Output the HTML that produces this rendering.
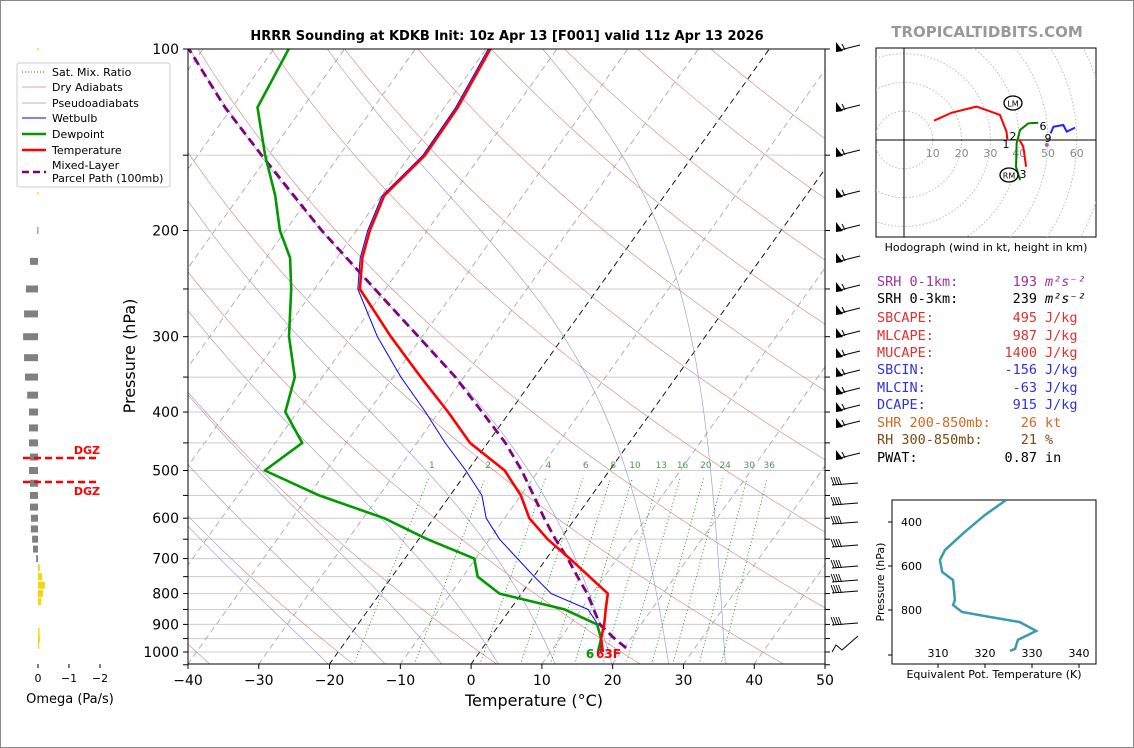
<!DOCTYPE html>
<html><head><meta charset="utf-8"><style>
body{margin:0;background:#fff;}
svg{display:block;font-family:"DejaVu Sans","Liberation Sans",sans-serif;}
.mono{font-family:"DejaVu Sans Mono","Liberation Mono",monospace;font-size:13.5px;}
</style></head><body>
<svg id="s" width="1134" height="748" viewBox="0 0 1134 748" xmlns="http://www.w3.org/2000/svg">
<rect x="0.5" y="0.5" width="1133" height="747" fill="#fff" stroke="#888"/>
<defs><clipPath id="pc"><rect x="188" y="49" width="637" height="615"/></clipPath>
<clipPath id="hc"><rect x="876" y="48" width="220" height="189"/></clipPath>
<clipPath id="tc"><rect x="892" y="500" width="204" height="164"/></clipPath></defs>
<text x="507" y="40" text-anchor="middle" font-size="13" font-weight="bold">HRRR Sounding at KDKB Init: 10z Apr 13 [F001] valid 11z Apr 13 2026</text>
<text x="987" y="37" text-anchor="middle" font-size="15" font-weight="bold" fill="#999">TROPICALTIDBITS.COM</text>
<g id="bg" clip-path="url(#pc)"></g>
<g id="prof" clip-path="url(#pc)"></g>
<rect x="188" y="49" width="637" height="615" fill="none" stroke="#000"/>
<g id="axes"></g>
<text x="534" y="706" text-anchor="middle" font-size="16">Temperature (°C)</text>
<text transform="translate(135,356) rotate(-90)" text-anchor="middle" font-size="16">Pressure (hPa)</text>
<g id="omega"></g>
<text x="70" y="703" text-anchor="middle" font-size="13">Omega (Pa/s)</text>
<g id="barbs"></g>
<g>
<rect x="17" y="63" width="153" height="124" fill="#fff" stroke="#ccc" rx="2"/>
<line x1="22" y1="72" x2="46" y2="72" stroke="green" stroke-dasharray="1,2"/>
<text x="52" y="76" font-size="11">Sat. Mix. Ratio</text>
<line x1="22" y1="87" x2="46" y2="87" stroke="#d08080" stroke-width="0.7"/>
<text x="52" y="91" font-size="11">Dry Adiabats</text>
<line x1="22" y1="103" x2="46" y2="103" stroke="#9090e0" stroke-width="0.7"/>
<text x="52" y="107" font-size="11">Pseudoadiabats</text>
<line x1="22" y1="118" x2="46" y2="118" stroke="#0000ff"/>
<text x="52" y="122" font-size="11">Wetbulb</text>
<line x1="22" y1="134" x2="46" y2="134" stroke="#009900" stroke-width="2.5"/>
<text x="52" y="138" font-size="11">Dewpoint</text>
<line x1="22" y1="150" x2="46" y2="150" stroke="red" stroke-width="2.5"/>
<text x="52" y="154" font-size="11">Temperature</text>
<line x1="22" y1="172" x2="46" y2="172" stroke="purple" stroke-width="2.5" stroke-dasharray="7,4"/>
<text x="52" y="169" font-size="11">Mixed-Layer</text>
<text x="52" y="182" font-size="11">Parcel Path (100mb)</text>
</g>
<g id="hodo"></g>
<text x="986" y="251" text-anchor="middle" font-size="11">Hodograph (wind in kt, height in km)</text>
<g id="stats" class="mono"></g>
<g id="thetae"></g>
<text x="994" y="678" text-anchor="middle" font-size="11">Equivalent Pot. Temperature (K)</text>
<text transform="translate(884,582) rotate(-90)" text-anchor="middle" font-size="11">Pressure (hPa)</text>
</svg>
<script>
// ---- data ----
const levels=[1000,950,900,850,800,750,700,650,600,550,500,450,400,350,300,250,222,200,175,150,125,100];
const tempC=[17.4,15.8,14.8,13.5,12.2,7.9,3.3,-1.8,-6.5,-10,-14.8,-22.5,-28.7,-36.1,-44.4,-53.6,-56.4,-58.1,-59.6,-57.9,-58.1,-59.4];
const dewC=[16.7,15.8,13.8,7.7,-3.1,-7.9,-10.2,-18.8,-27,-38.5,-48.7,-46.2,-51.7,-53.9,-58.8,-63.3,-66.6,-70.8,-75,-80.5,-86.4,-87.9];
const wetC=[17.1,15.8,13.9,11,4.2,0.1,-4.1,-8.6,-12.6,-15.5,-20.3,-26,-31.9,-38.9,-46.3,-53.9,-56.7,-58.4,-59.9,-58.2,-58.4,-59.7];
const parcelP=[985,950,900,850,800,750,700,650,600,550,500,450,400,350,300,250,200,150,125,100];
const parcelC=[20.3,17.7,14.2,11.8,9.3,6.2,3,-0.7,-4.4,-8.2,-12.4,-17.5,-23.9,-31.2,-40.5,-51.5,-64.9,-81,-91,-102];
const omegaP=[200,225,250,275,300,325,350,375,400,425,450,475,500,525,550,575,600,625,650,675,700,725,750,775,800,825,925,950,975];
const omegaV=[0.02,0.26,0.39,0.45,0.48,0.45,0.42,0.35,0.29,0.29,0.29,0.26,0.29,0.26,0.26,0.26,0.23,0.23,0.19,0.16,0.06,-0.06,-0.13,-0.22,-0.16,-0.1,-0.05,-0.06,-0.04];
const hodoRedU=[10.4,16.6,25.2,33.3,35.6,35.9];
const hodoRedV=[6.7,9.5,11.6,8.7,2.9,0];
const hodoLowU=[40,41.4,42.4];
const hodoLowV=[0.2,-2.3,-9.3];
const hodoGreenU=[40.3,38.9,39.1,40.3,43.2,46.6];
const hodoGreenV=[-13.9,-9.3,-1.2,3.5,5.8,6.0];
const hodoBlueU=[50.9,51.9,55.3,56.5,59.4];
const hodoBlueV=[2.3,4.6,5.2,2.9,4.3];
const thetaK=[324.5,320,315.7,311.5,310.4,310.9,313.2,313.6,313.2,315.1,321.1,327.4,330.9,327,326.4,325.3];
const thetaP=[300,368,445,527,573,627,664,755,777,809,832,855,895,936,977,986];
const pTicks=[100,200,300,400,500,600,700,800,900,1000];
const tTicks=[-40,-30,-20,-10,0,10,20,30,40,50];
const mixRatios=[1,2,4,6,8,10,13,16,20,24,30,36];
const upperBarbY=[47,107,152,193,227,258,287,310,333,353,372,390,407,423,455];
const lowerBarbY=[483,503,522,545,566,580,591,623];
// ---- helpers ----
const NS="http://www.w3.org/2000/svg";
function mk(parent,tag,attrs){const e=document.createElementNS(NS,tag);for(const k in attrs)e.setAttribute(k,attrs[k]);parent.appendChild(e);return e;}
const yP=p=>49+603*Math.log10(p/100);
const xT=(T,p)=>188+(T+40)*7.078+(664-yP(p))*0.715;
const pts=(T,P)=>T.map((t,i)=>xT(t,P[i]).toFixed(1)+","+yP(P[i]).toFixed(1)).join(" ");
const bg=document.getElementById('bg');
for(let p=100;p<=1050;p+=50){const l=mk(bg,'line',{x1:188,x2:825,y1:yP(p),y2:yP(p),stroke:'#ccc','stroke-width':1});

}
for(let T=-120;T<=50;T+=10){const l=mk(bg,'line',{x1:xT(T,1050),y1:yP(1050),x2:xT(T,100),y2:yP(100),stroke:(T==0||T==-20)?'#000':'#aaa','stroke-width':0.9,'stroke-dasharray':'6,4'});

}
for(let th=-40;th<=200;th+=20){let a=[];for(let p=1050;p>=100;p-=10){a.push(xT((th+273.15)*Math.pow(p/1000,0.286)-273.15,p).toFixed(1)+","+yP(p).toFixed(1));}
const l=mk(bg,'polyline',{points:a.join(" "),fill:'none',stroke:'#d08080','stroke-width':0.6});

}
function dTdp(T,p){const Tc=T-273.15;const es=6.112*Math.exp(17.67*Tc/(Tc+243.5));const rs=0.622*es/(p-es);const Rd=287,Lv=2.5e6,Cp=1004;return (Rd*T+Lv*rs)/(p*(Cp+Lv*Lv*rs*0.622/(Rd*T*T)));}
for(let T0=-20;T0<=40;T0+=8){let T=T0+273.15,a=[];for(let p=1050;p>=100;p-=5){a.push(xT(T-273.15,p).toFixed(1)+","+yP(p).toFixed(1));T-=dTdp(T,p)*5;}
const l=mk(bg,'polyline',{points:a.join(" "),fill:'none',stroke:'#9090e0','stroke-width':0.6});

}
function tdW(w,p){const e=w*p/(622+w);const L=Math.log(e/6.112);return 243.5*L/(17.67-L);}
mixRatios.forEach(w=>{const l=mk(bg,'line',{x1:xT(tdW(w,1050),1050),y1:yP(1050),x2:xT(tdW(w,515),515),y2:yP(515),stroke:'green','stroke-width':0.8,'stroke-dasharray':'1,2.5'});


const t=mk(bg,'text',{x:xT(tdW(w,500),500),y:468,'font-size':9,fill:'#4a9a4a','text-anchor':'middle'});t.textContent=w;

});
const prof=document.getElementById('prof');
let e;
e=mk(prof,'polyline',{points:pts(wetC,levels),fill:'none',stroke:'#0000ff','stroke-width':1});


e=mk(prof,'polyline',{points:pts(parcelC,parcelP),fill:'none',stroke:'purple','stroke-width':2.8,'stroke-dasharray':'9,5'});


e=mk(prof,'polyline',{points:pts(dewC,levels),fill:'none',stroke:'#009900','stroke-width':2.6,'stroke-linejoin':'round'});


e=mk(prof,'polyline',{points:pts(tempC,levels),fill:'none',stroke:'red','stroke-width':2.6,'stroke-linejoin':'round'});


e=mk(prof,'text',{x:590,y:yP(1000)+6,'font-size':12,'font-weight':'bold',fill:'#009900','text-anchor':'middle'});e.textContent='6';


e=mk(prof,'text',{x:596,y:yP(1000)+6,'font-size':12,'font-weight':'bold',fill:'red','text-anchor':'start'});e.textContent='63F';


const ax=document.getElementById('axes');
for(let p=100;p<=1050;p+=50){mk(ax,'line',{x1:183,x2:188,y1:yP(p),y2:yP(p),stroke:'#000'});mk(ax,'line',{x1:825,x2:830,y1:yP(p),y2:yP(p),stroke:'#000'});}
pTicks.forEach(p=>{const t=mk(ax,'text',{x:179,y:yP(p)+5,'font-size':14,'text-anchor':'end'});t.textContent=p;

});
tTicks.forEach(T=>{const x=188+(T+40)*7.078;mk(ax,'line',{x1:x,x2:x,y1:664,y2:669,stroke:'#000'});const t=mk(ax,'text',{x:x,y:685,'font-size':14,'text-anchor':'middle'});t.textContent=T<0?'\u2212'+(-T):T;

});
const om=document.getElementById('omega');
const ox=v=>38-v*31;
omegaP.forEach((p,i)=>{const v=omegaV[i];const x0=Math.min(ox(v),38),w=Math.max(Math.abs(v*31),1);const r=mk(om,'rect',{x:x0,y:yP(p)-3.5,width:w,height:7,fill:v>0?'#808080':'#f5d800'});

});
mk(om,'line',{x1:38,x2:38,y1:48,y2:200,stroke:'#f5e000','stroke-width':1.5,'stroke-dasharray':'2,14'});
[0,-1,-2].forEach(v=>{mk(om,'line',{x1:ox(v),x2:ox(v),y1:664,y2:668,stroke:'#000'});const t=mk(om,'text',{x:ox(v),y:682,'font-size':11,'text-anchor':'middle'});t.textContent=v<0?'\u2212'+(-v):v;

});
[[458,'DGZ',454],[482,'DGZ',495]].forEach(d=>{mk(om,'line',{x1:23,x2:98,y1:d[0],y2:d[0],stroke:'red','stroke-width':2.5,'stroke-dasharray':'7,4'});const t=mk(om,'text',{x:100,y:d[2],'font-size':11,'font-weight':'bold',fill:'red','text-anchor':'end'});t.textContent=d[1];

});
const bb=document.getElementById('barbs');
upperBarbY.forEach(y=>{const g=mk(bb,'g',{});


mk(g,'polygon',{points:`836,${y-5} 836,${y+5} 843,${y+4}`,fill:'#000'});mk(g,'line',{x1:836,y1:y+4,x2:860,y2:y-2,stroke:'#000','stroke-width':1});mk(g,'line',{x1:842,y1:y-3,x2:845,y2:y+3,stroke:'#000'});});
lowerBarbY.forEach(y=>{const g=mk(bb,'g',{});


mk(g,'line',{x1:832,y1:y+2,x2:858,y2:y,stroke:'#000'});for(let k=0;k<4;k++)mk(g,'line',{x1:834+k*2.5,y1:y+2,x2:831+k*2.5,y2:y-6,stroke:'#000','stroke-width':0.9});});
mk(bb,'polyline',{points:'858,636 842,650 836,645 832,652',fill:'none',stroke:'#000'});
const ho=document.getElementById('hodo');
const hx=u=>904+u*2.88,hy=v=>140-v*2.88;
mk(ho,'rect',{x:876,y:48,width:220,height:189,fill:'#fff',stroke:'#000'});
const hg=mk(ho,'g',{'clip-path':'url(#hc)'});
for(let r=10;r<=80;r+=10)mk(hg,'circle',{cx:904,cy:140,r:r*2.88,fill:'none',stroke:'#bbb','stroke-dasharray':'1.5,2'});
mk(hg,'line',{x1:876,x2:1096,y1:140,y2:140,stroke:'#000'});mk(hg,'line',{x1:904,x2:904,y1:48,y2:237,stroke:'#000'});
[10,20,30,40,50,60].forEach(r=>{const t=mk(hg,'text',{x:hx(r),y:157,'font-size':11,fill:'#888','text-anchor':'middle'});t.textContent=r;

});
[[hodoRedU,hodoRedV,'red'],[hodoLowU,hodoLowV,'red'],[hodoGreenU,hodoGreenV,'green'],[hodoBlueU,hodoBlueV,'#2222ff']].forEach(s=>{const l=mk(hg,'polyline',{points:s[0].map((u,i)=>hx(u)+","+hy(s[1][i])).join(" "),fill:'none',stroke:s[2],'stroke-width':2});

});
mk(hg,'circle',{cx:hx(49.6),cy:hy(-1.7),r:2,fill:'#b060b0'});
[['1',1006,148],['2',1013,140],['3',1023,178],['6',1043,130],['9',1048,142]].forEach(a=>{const t=mk(hg,'text',{x:a[1],y:a[2],'font-size':11,'text-anchor':'middle'});t.textContent=a[0];

});
[['LM',1013,103],['RM',1009,175]].forEach(a=>{mk(hg,'ellipse',{cx:a[1],cy:a[2],rx:9,ry:7,fill:'#fff',stroke:'#000','stroke-width':1.3});const t=mk(hg,'text',{x:a[1],y:a[2]+3.5,'font-size':8,'text-anchor':'middle'});t.textContent=a[0];

});
const st=document.getElementById('stats');
const rows=[['SRH 0-1km:','193','m²s⁻²','#a030a0',286],['SRH 0-3km:','239','m²s⁻²','#000',303],['SBCAPE:','495','J/kg','#e03030',322],['MLCAPE:','987','J/kg','#e03030',340],['MUCAPE:','1400','J/kg','#e03030',357],['SBCIN:','-156','J/kg','#3030e0',374],['MLCIN:','-63','J/kg','#3030e0',392],['DCAPE:','915','J/kg','#3030e0',409],['SHR 200-850mb:','26','kt','#d2691e',427],['RH 300-850mb:','21','%','#7a4a10',444],['PWAT:','0.87','in','#000',462]];
rows.forEach(r=>{let t=mk(st,'text',{x:877,y:r[4],fill:r[3]});t.textContent=r[0];


t=mk(st,'text',{x:1037,y:r[4],fill:r[3],'text-anchor':'end'});t.textContent=r[1];


t=mk(st,'text',{x:1045,y:r[4],fill:r[3],'font-style':r[2].startsWith('m')?'italic':'normal'});t.textContent=r[2];

});
const te=document.getElementById('thetae');
const tx=k=>938+(k-310)*4.7,ty=p=>522+(p-400)*0.22;
mk(te,'rect',{x:892,y:500,width:204,height:164,fill:'#fff',stroke:'#000'});
e=mk(te,'polyline',{points:thetaK.map((k,i)=>tx(k)+","+ty(thetaP[i])).join(" "),fill:'none',stroke:'#3a9ab0','stroke-width':2.5,'clip-path':'url(#tc)'});


[310,320,330,340].forEach(k=>{mk(te,'line',{x1:tx(k),x2:tx(k),y1:664,y2:668,stroke:'#000'});const t=mk(te,'text',{x:tx(k),y:657,'font-size':11,'text-anchor':'middle'});t.textContent=k;

});
[400,600,800].forEach(p=>{mk(te,'line',{x1:888,x2:892,y1:ty(p),y2:ty(p),stroke:'#000'});const t=mk(te,'text',{x:922,y:ty(p)+4,'font-size':11,'text-anchor':'end'});t.textContent=p;

});
mk(te,'line',{x1:888,x2:892,y1:655,y2:655,stroke:'#000'});
</script>
</body></html>
